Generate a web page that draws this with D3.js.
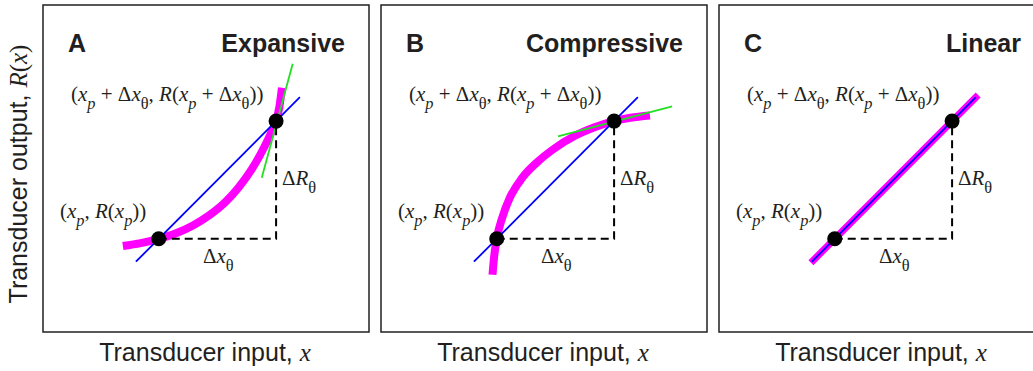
<!DOCTYPE html>
<html>
<head>
<meta charset="utf-8">
<script src="https://cdn.jsdelivr.net/npm/d3@7/dist/d3.min.js"></script>
<style>
  html, body { margin: 0; padding: 0; background: #fff; }
  svg { display: block; }
</style>
</head>
<body>
<svg id="chart" width="1033" height="371"></svg>
<script>
// Panel letters and titles
const panelLetters = ["A", "B", "C"];
const panelTitles = ["Expansive", "Compressive", "Linear"];

// Transducer response curves R(x), as (input, output) pairs in plot units (0–10)
const expansiveCurve = [
  [2.45, 2.63], [3.0, 2.72], [3.55, 2.85], [4.1, 3.03], [4.6, 3.26],
  [5.1, 3.57], [5.6, 3.98], [6.0, 4.42], [6.4, 4.97], [6.8, 5.68],
  [7.0, 6.1], [7.15, 6.45], [7.25, 6.88], [7.33, 7.47]
];
const compressiveCurve = [
  [3.42, 1.75], [3.47, 2.3], [3.55, 2.85], [3.72, 3.5], [3.95, 4.1],
  [4.33, 4.71], [4.8, 5.2], [5.3, 5.6], [5.95, 6.0], [6.55, 6.26],
  [7.15, 6.45], [7.65, 6.55], [8.25, 6.62]
];
const linearCurve = [[2.82, 2.12], [7.95, 7.25]];
const curves = [expansiveCurve, compressiveCurve, linearCurve];

// Operating point x_p and the point one threshold step away, x_p + Δx_θ
const pointLow = [3.55, 2.85];
const pointHigh = [7.15, 6.45];

// Secant through both points (blue) and local tangent at the upper point (green)
const secantLine = [[2.85, 2.15], [7.88, 7.18]];
const tangentLines = [
  [[6.71, 4.72], [7.66, 8.2]],
  [[5.43, 5.98], [8.93, 6.9]],
  null
];

const svg = d3.select("#chart");
const sans = "'Liberation Sans', Arial, Helvetica, sans-serif";
const serif = "'Liberation Serif', 'Times New Roman', serif";
const ink = "#231f20";

const panelW = 326, panelH = 327, panelTop = 5;
const panelLeft = [43, 381, 719];

const x = d3.scaleLinear().domain([0, 10]).range([0, panelW]);
const y = d3.scaleLinear().domain([0, 10]).range([panelH, 0]);
const line = d3.line().x(d => x(d[0])).y(d => y(d[1]));
const smooth = d3.line().x(d => x(d[0])).y(d => y(d[1])).curve(d3.curveMonotoneX);

// Writes a math label built from parts: [text, kind], kind in "r" (roman), "i" (italic), "s" (subscript)
function mathLabel(g, px, py, parts, size) {
  const t = g.append("text")
    .attr("x", px).attr("y", py)
    .attr("font-family", serif)
    .attr("font-size", size)
    .attr("fill", ink);
  let lowered = false;
  const drop = size * 0.4;
  parts.forEach(([txt, kind]) => {
    const s = t.append("tspan").text(txt);
    if (kind === "s") {
      s.attr("font-size", size * 0.78).attr("font-style", txt === "θ" ? "normal" : "italic");
      if (!lowered) { s.attr("dy", drop); lowered = true; }
    } else {
      if (lowered) { s.attr("dy", -drop); lowered = false; }
      if (kind === "i") s.attr("font-style", "italic");
    }
  });
  return t;
}

panelLetters.forEach((letter, i) => {
  const g = svg.append("g").attr("transform", `translate(${panelLeft[i]},${panelTop})`);

  // Frame
  g.append("rect")
    .attr("x", 0).attr("y", 0)
    .attr("width", panelW).attr("height", panelH)
    .attr("fill", "none").attr("stroke", ink).attr("stroke-width", 1.5);

  // Letter and title
  g.append("text").attr("x", 25).attr("y", 47)
    .attr("font-family", sans).attr("font-weight", "bold").attr("font-size", 25)
    .attr("fill", ink).text(letter);
  g.append("text").attr("x", 302).attr("y", 47).attr("text-anchor", "end")
    .attr("font-family", sans).attr("font-weight", "bold").attr("font-size", 25)
    .attr("fill", ink).text(panelTitles[i]);

  // Response curve (thick magenta)
  g.append("path").datum(curves[i])
    .attr("d", curves[i].length > 2 ? smooth : line)
    .attr("fill", "none").attr("stroke", "#ff00ff")
    .attr("stroke-width", i === 2 ? 7 : 8);

  // Secant
  g.append("path").datum(secantLine).attr("d", line)
    .attr("fill", "none").attr("stroke", "#0000ff").attr("stroke-width", 1.8);

  // Tangent at the upper point
  if (tangentLines[i]) {
    g.append("path").datum(tangentLines[i]).attr("d", line)
      .attr("fill", "none").attr("stroke", "#22e022").attr("stroke-width", 1.8);
  }

  // Δx and ΔR legs
  const legs = [pointLow, [pointHigh[0], pointLow[1]], pointHigh];
  g.append("path").datum(legs).attr("d", line)
    .attr("fill", "none").attr("stroke", "#000")
    .attr("stroke-width", 2).attr("stroke-dasharray", "8,5");

  // The two points
  g.selectAll("circle.pt").data([pointLow, pointHigh]).join("circle")
    .attr("class", "pt")
    .attr("cx", d => x(d[0])).attr("cy", d => y(d[1]))
    .attr("r", 7.5).attr("fill", "#000");

  // Point labels
  mathLabel(g, 28, 96, [
    ["(", "r"], ["x", "i"], ["p", "s"], [" + Δ", "r"], ["x", "i"], ["θ", "s"],
    [", ", "r"], ["R", "i"], ["(", "r"], ["x", "i"], ["p", "s"], [" + Δ", "r"],
    ["x", "i"], ["θ", "s"], ["))", "r"]
  ], 21);
  mathLabel(g, 17, 213, [
    ["(", "r"], ["x", "i"], ["p", "s"], [", ", "r"], ["R", "i"], ["(", "r"],
    ["x", "i"], ["p", "s"], ["))", "r"]
  ], 21);
  mathLabel(g, 239, 180, [["Δ", "r"], ["R", "i"], ["θ", "s"]], 21);
  mathLabel(g, 160, 258, [["Δ", "r"], ["x", "i"], ["θ", "s"]], 21);

  // Input axis title
  const xt = g.append("text")
    .attr("x", panelW / 2 - 1).attr("y", 356).attr("text-anchor", "middle")
    .attr("font-family", sans).attr("font-size", 25).attr("fill", ink);
  xt.append("tspan").text("Transducer input, ");
  xt.append("tspan").attr("font-family", serif).attr("font-style", "italic").text("x");
});

// Output axis title
const yt = svg.append("text")
  .attr("transform", "translate(27,174) rotate(-90)")
  .attr("text-anchor", "middle")
  .attr("font-family", sans).attr("font-size", 25).attr("fill", ink);
yt.append("tspan").text("Transducer output, ");
yt.append("tspan").attr("font-family", serif).attr("font-style", "italic").text("R");
yt.append("tspan").attr("font-family", serif).text("(");
yt.append("tspan").attr("font-family", serif).attr("font-style", "italic").text("x");
yt.append("tspan").attr("font-family", serif).text(")");
</script>
</body>
</html>
